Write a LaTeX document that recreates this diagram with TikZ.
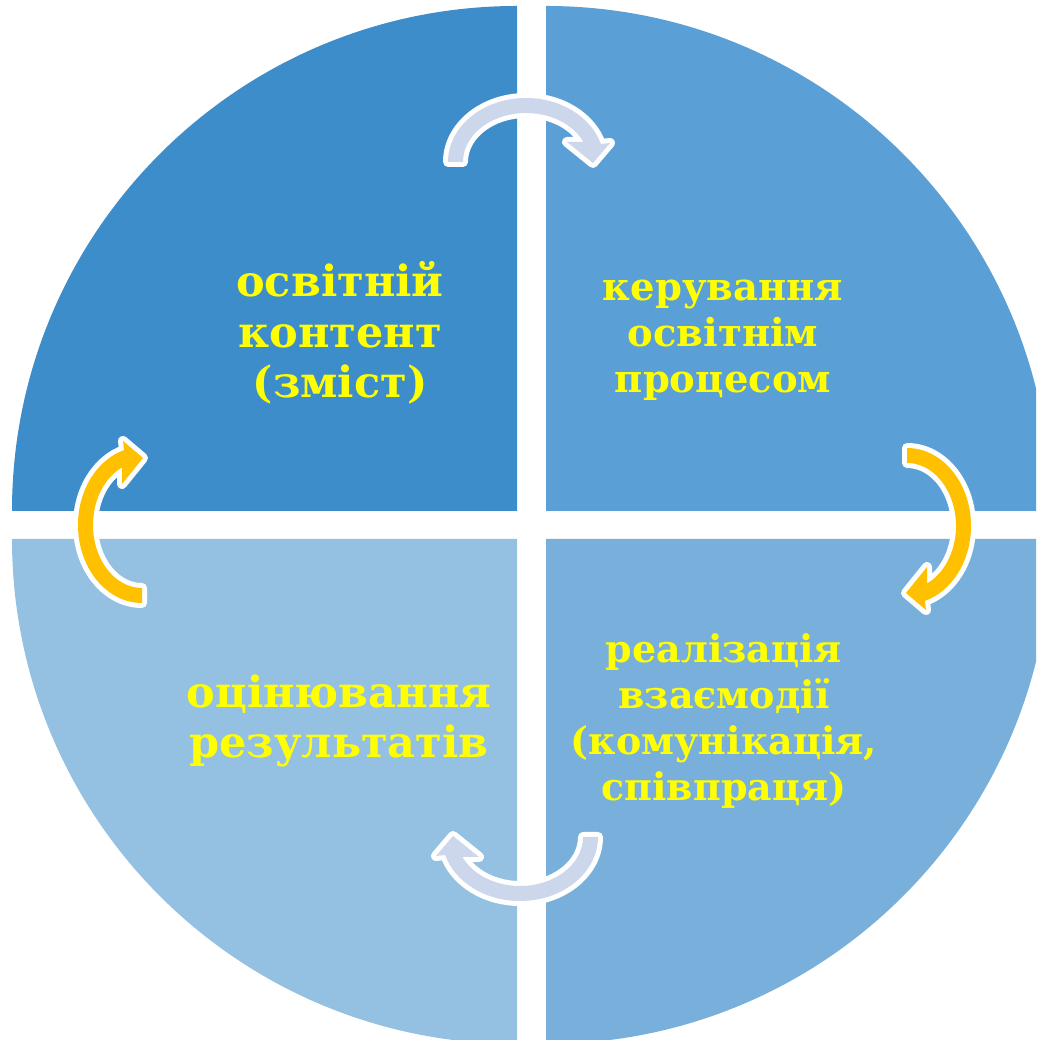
\documentclass[tikz,border=0pt]{standalone}
\usepackage{fontspec}
\setmainfont{DejaVu Serif}
\definecolor{qtl}{HTML}{3D8DCA}
\definecolor{qtr}{HTML}{5A9FD5}
\definecolor{qbr}{HTML}{78B0DB}
\definecolor{qbl}{HTML}{94C1E2}
\definecolor{arrlav}{HTML}{CDD7EB}
\definecolor{arrorg}{HTML}{FFC000}
\definecolor{txtyel}{HTML}{FFFF00}
\tikzset{
  cycarrow/.pic={
    \path[fill=#1, preaction={draw=white, line width=10pt, line join=round}]
      (-78,0) arc[start angle=180, end angle=16.3, x radius=78, y radius=64]
      -- (84,19) -- (67,-1) -- (41,20) -- (57.5,20)
      arc[start angle=24.1, end angle=180, x radius=63, y radius=49]
      -- cycle;
  },
  lbl/.style={text=txtyel, align=center, inner sep=0pt, anchor=base},
}
\begin{document}
\begin{tikzpicture}[x=1pt,y=1pt]
\useasboundingbox (0,0) rectangle (1036,1040);
\clip (0,0) rectangle (1036,1040);
\fill[white] (0,0) rectangle (1036,1040);
% quadrants
\fill[qtl] (517,529) -- (517,1034) arc[start angle=90, end angle=180, radius=505] -- cycle;
\fill[qtr] (546,529) -- (1051,529) arc[start angle=0, end angle=90, radius=505] -- cycle;
\fill[qbr] (546,501) -- (546,-4) arc[start angle=270, end angle=360, radius=505] -- cycle;
\fill[qbl] (517,501) -- (12,501) arc[start angle=180, end angle=270, radius=505] -- cycle;
% cycle arrows
\pic at (526,878) {cycarrow=arrlav};
\pic[rotate=-90] at (907,514) {cycarrow=arrorg};
\pic[rotate=180] at (520,203) {cycarrow=arrlav};
\pic[rotate=90] at (142,515) {cycarrow=arrorg};
% labels (anchor = baseline of last line)
\node[lbl, font=\fontsize{43}{50.5}\selectfont\bfseries] (tl) at (340,642) {освітній\\контент\\(зміст)};
\node[lbl, font=\fontsize{38.5}{46}\selectfont\bfseries] (tr) at (723,647) {керування\\освітнім\\процесом};
\node[lbl, font=\fontsize{38}{46}\selectfont\bfseries] (br) at (724,239) {реалізація\\взаємодії\\(комунікація,\\співпраця)};
\node[lbl, font=\fontsize{43}{50}\selectfont\bfseries] (bl) at (339,282) {оцінювання\\результатів};
\end{tikzpicture}
\end{document}
